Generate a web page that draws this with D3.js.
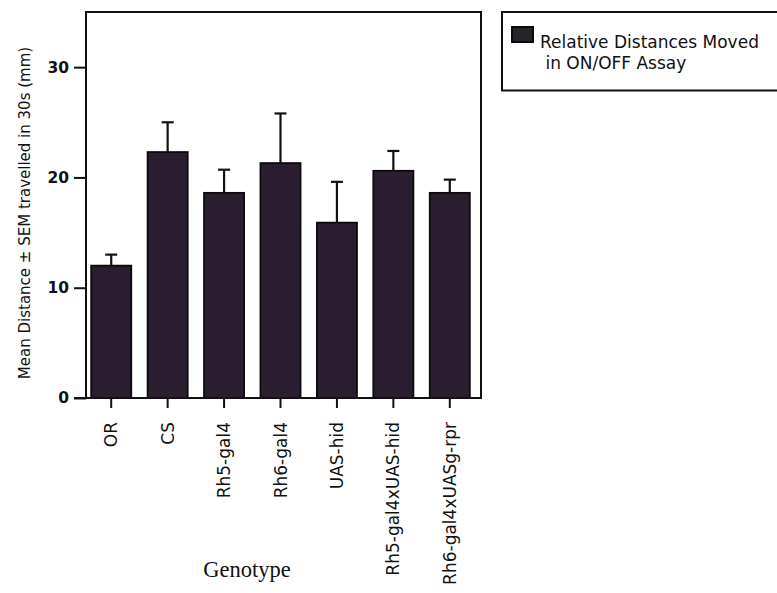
<!DOCTYPE html>
<html>
<head>
<meta charset="utf-8">
<script src="https://cdn.jsdelivr.net/npm/d3@7"></script>
<style>
  html, body { margin: 0; padding: 0; background: #ffffff; }
  svg { display: block; }
</style>
</head>
<body>
<svg id="chart" width="777" height="593"></svg>
<script>
// Genotypes tested and their mean distance (mm) with the SEM upper limit
const genotypes = ["OR", "CS", "Rh5-gal4", "Rh6-gal4", "UAS-hid", "Rh5-gal4xUAS-hid", "Rh6-gal4xUASg-rpr"];
const meanDistance = [12.0, 22.3, 18.6, 21.3, 15.9, 20.6, 18.6];
const semUpper = [13.0, 25.0, 20.7, 25.8, 19.6, 22.4, 19.8];
const yTicks = [0, 10, 20, 30];
const legendLines = ["Relative Distances Moved", " in ON/OFF Assay"];

const svg = d3.select("#chart");
const sans = "'DejaVu Sans', Verdana, sans-serif";
const barFill = "#2a1d2f";

const box = { left: 86, right: 481, top: 12, bottom: 398 };

const x = d3.scaleBand()
  .domain(genotypes)
  .range([83, 478])
  .paddingInner(0.29)
  .paddingOuter(0.145);

const y = d3.scaleLinear()
  .domain([0, 35])
  .range([box.bottom, box.top]);

// Plot frame
svg.append("rect")
  .attr("x", box.left).attr("y", box.top)
  .attr("width", box.right - box.left).attr("height", box.bottom - box.top)
  .attr("fill", "none").attr("stroke", "#111").attr("stroke-width", 2);

// Bars
svg.append("g").selectAll("rect")
  .data(genotypes)
  .join("rect")
  .attr("x", d => x(d))
  .attr("y", (d, i) => y(meanDistance[i]))
  .attr("width", x.bandwidth())
  .attr("height", (d, i) => y(0) - y(meanDistance[i]))
  .attr("fill", barFill)
  .attr("stroke", "#0c0a0c")
  .attr("stroke-width", 1.8);

// Error bars (upper half only, T-shaped)
const err = svg.append("g").attr("stroke", "#111").attr("stroke-width", 2.2);
genotypes.forEach((g, i) => {
  const cx = x(g) + x.bandwidth() / 2;
  err.append("line")
    .attr("x1", cx).attr("x2", cx)
    .attr("y1", y(meanDistance[i])).attr("y2", y(semUpper[i]));
  err.append("line")
    .attr("x1", cx - 6).attr("x2", cx + 6)
    .attr("y1", y(semUpper[i])).attr("y2", y(semUpper[i]));
});

// Y axis
const yAxis = svg.append("g")
  .attr("transform", `translate(${box.left},0)`)
  .call(d3.axisLeft(y).tickValues(yTicks).tickSize(12).tickPadding(5));
yAxis.select(".domain").remove();
yAxis.selectAll(".tick line").attr("stroke", "#111").attr("stroke-width", 2);
yAxis.selectAll(".tick text")
  .attr("fill", "#111")
  .style("font-family", sans)
  .style("font-size", "15.5px")
  .style("font-weight", "bold");

// Baseline extends to the left under the 0 tick
svg.append("line")
  .attr("x1", 74).attr("x2", box.right)
  .attr("y1", y(0)).attr("y2", y(0))
  .attr("stroke", "#111").attr("stroke-width", 2);

// X axis
const xAxis = svg.append("g")
  .attr("transform", `translate(0,${box.bottom})`)
  .call(d3.axisBottom(x).tickSize(10).tickPadding(0));
xAxis.select(".domain").remove();
xAxis.selectAll(".tick line").attr("stroke", "#111").attr("stroke-width", 2);
xAxis.selectAll(".tick text")
  .attr("fill", "#111")
  .style("font-family", sans)
  .style("font-size", "17px")
  .attr("text-anchor", "end")
  .attr("transform", "translate(6,24) rotate(-90)")
  .attr("x", 0).attr("y", 0).attr("dy", 0);

// Y axis title
svg.append("text")
  .attr("transform", `translate(30,${(47 + 379) / 2}) rotate(-90)`)
  .attr("text-anchor", "middle")
  .attr("fill", "#111")
  .style("font-family", sans)
  .style("font-size", "15px")
  .text("Mean Distance  \u00B1 SEM travelled in 30s (mm)");

// X axis title
svg.append("text")
  .attr("x", 247).attr("y", 577)
  .attr("text-anchor", "middle")
  .attr("fill", "#111")
  .style("font-family", "'Liberation Serif', 'Times New Roman', serif")
  .style("font-size", "22.5px")
  .text("Genotype");

// Legend
const legend = svg.append("g");
legend.append("rect")
  .attr("x", 502).attr("y", 12)
  .attr("width", 290).attr("height", 78.5)
  .attr("fill", "#fff").attr("stroke", "#111").attr("stroke-width", 2);
legend.append("rect")
  .attr("x", 512).attr("y", 27)
  .attr("width", 21).attr("height", 15)
  .attr("fill", "#262428").attr("stroke", "#0a0a0a").attr("stroke-width", 2);
legend.selectAll("text.lg")
  .data(legendLines)
  .join("text")
  .attr("class", "lg")
  .attr("x", 540)
  .attr("y", (d, i) => 48 + i * 21)
  .attr("fill", "#111")
  .style("font-family", sans)
  .style("font-size", "17px")
  .style("white-space", "pre")
  .attr("xml:space", "preserve")
  .text(d => d);
</script>
</body>
</html>
